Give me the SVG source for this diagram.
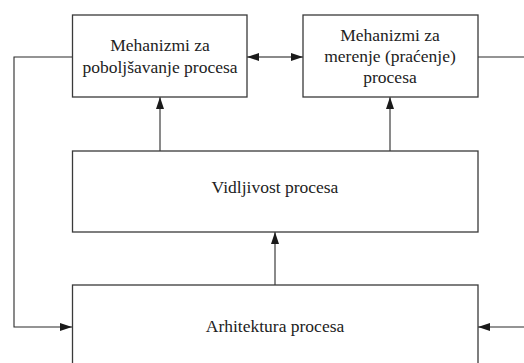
<svg xmlns="http://www.w3.org/2000/svg" width="524" height="363" viewBox="0 0 524 363">
<style>
.box{fill:#fff;stroke:#3a3a3a;stroke-width:1.3}
.ln{fill:none;stroke:#2a2a2a;stroke-width:1.1}
.t{font-family:"Liberation Serif","Times New Roman",serif;font-size:17.5px;fill:#222;text-anchor:middle}
</style>
<defs>
<marker id="ah" markerWidth="12" markerHeight="8" refX="12" refY="4" orient="auto" markerUnits="userSpaceOnUse">
<path d="M0,0 L12,4 L0,8 Z" fill="#1a1a1a"/>
</marker>
</defs>
<rect width="524" height="363" fill="#fff"/>
<g id="connectors">
<path class="ln" d="M72,57 H14 V327 H72" marker-end="url(#ah)"/>
<path class="ln" d="M275,57 H247" marker-end="url(#ah)"/>
<path class="ln" d="M275,57 H303" marker-end="url(#ah)"/>
<path class="ln" d="M478,57 H524"/>
<path class="ln" d="M524,327 H478" marker-end="url(#ah)"/>
<path class="ln" d="M160,151 V97" marker-end="url(#ah)"/>
<path class="ln" d="M390,151 V97" marker-end="url(#ah)"/>
<path class="ln" d="M275,285 V232" marker-end="url(#ah)"/>
</g>
<g id="n1"><rect class="box" x="72.5" y="15" width="174.5" height="82"/>
<text class="t" x="160" y="51">Mehanizmi za</text><text class="t" x="160" y="73">poboljšavanje procesa</text></g>
<g id="n2"><rect class="box" x="303" y="15" width="175" height="82"/>
<text class="t" x="390" y="41">Mehanizmi za</text><text class="t" x="390" y="62">merenje (praćenje)</text><text class="t" x="390" y="83">procesa</text></g>
<g id="n3"><rect class="box" x="72.5" y="151" width="405.5" height="81"/>
<text class="t" x="275" y="193">Vidljivost procesa</text></g>
<g id="n4"><rect class="box" x="72.5" y="285" width="405.5" height="90"/>
<text class="t" x="275" y="332">Arhitektura procesa</text></g>
</svg>
